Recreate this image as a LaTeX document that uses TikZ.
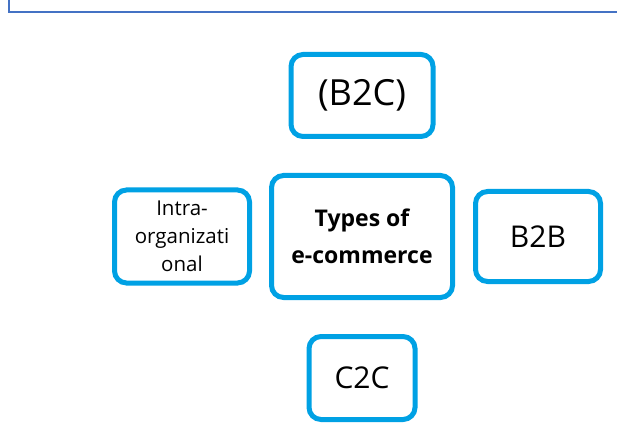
\documentclass[tikz,border=0pt]{standalone}
\usepackage{fontspec}
\setmainfont{Open Sans}
\usetikzlibrary{positioning}
\definecolor{boxblue}{RGB}{0,161,228}
\definecolor{slideblue}{RGB}{68,114,196}
\tikzset{
  typebox/.style = {rectangle, draw = boxblue, line width = 5pt, rounded corners = 12pt, inner sep = 0pt, align = center, text = black}
}
\begin{document}
\begin{tikzpicture}[x = 1pt, y = 1pt]
\useasboundingbox (0,0) rectangle (617,423);
\draw[slideblue, line width = 2pt] (9,423) -- (9,410.5) -- (617,410.5);

\node[typebox, minimum width = 181pt, minimum height = 122pt, font = \fontsize{23}{37}\selectfont\bfseries](types) at (362,186.5){Types of\\e-commerce};
\node[typebox, above = 34pt of types, minimum width = 142pt, minimum height = 82pt, font = \fontsize{36}{40}\selectfont](b2c){(B2C)};
\node[typebox, right = 18pt of types, minimum width = 125pt, minimum height = 90pt, font = \fontsize{30}{34}\selectfont](b2b){B2B};
\node[typebox, left = 17pt of types, minimum width = 135pt, minimum height = 93pt, font = \fontsize{20.5}{28}\selectfont](intra){Intra-\\organizati\\onal};
\node[typebox, below = 34pt of types, minimum width = 106pt, minimum height = 83pt, font = \fontsize{30}{35}\selectfont](c2c){C2C};
\end{tikzpicture}
\end{document}
